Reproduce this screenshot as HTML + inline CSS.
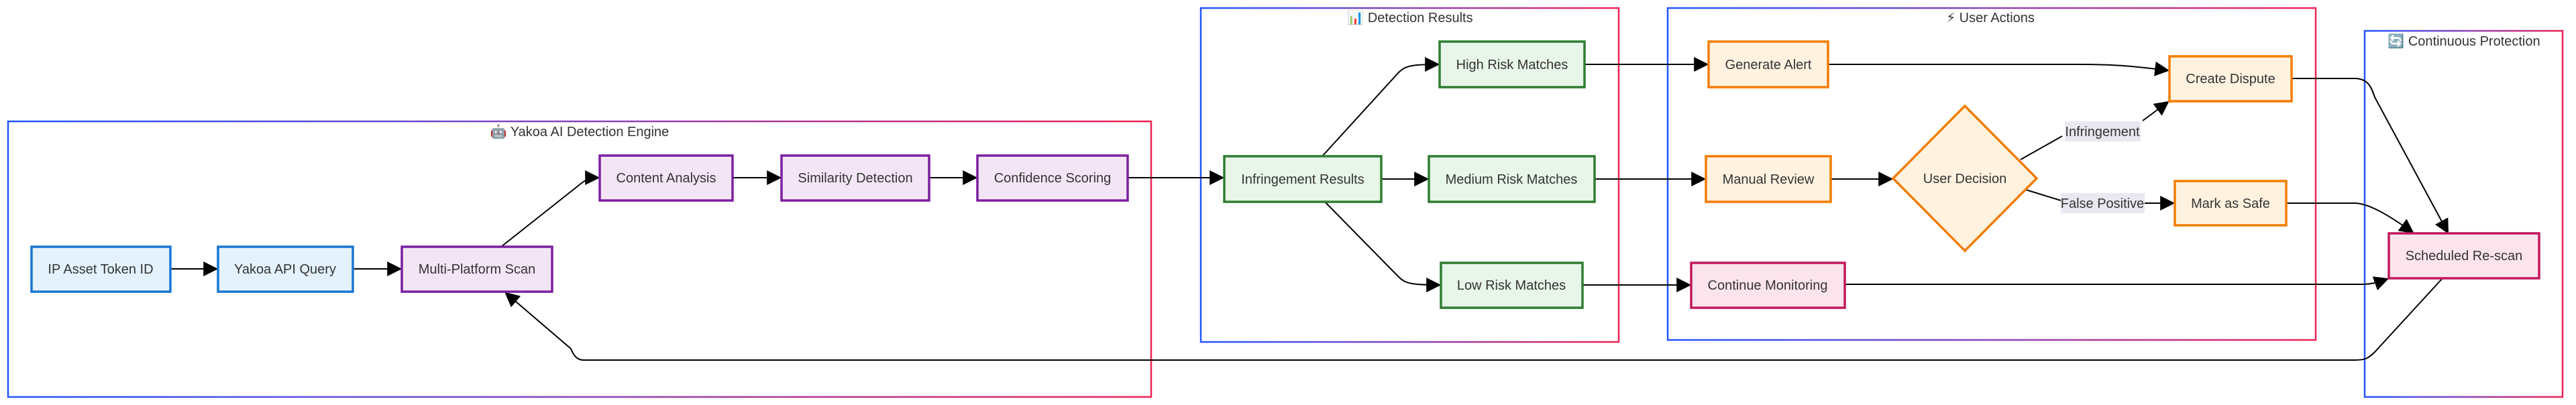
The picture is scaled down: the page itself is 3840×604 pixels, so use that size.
<!DOCTYPE html>
<html><head><meta charset="utf-8"><style>
html,body{margin:0;padding:0;background:#fff;}
svg{display:block;}
text{font-family:"Liberation Sans","DejaVu Sans",sans-serif;fill:#333;}
</style></head><body>
<svg width="3840" height="604" viewBox="0 0 3840 604" xmlns="http://www.w3.org/2000/svg">
<defs>
<linearGradient id="g" x1="0" y1="0" x2="1" y2="0"><stop offset="0" stop-color="#2255ff"/><stop offset="0.5" stop-color="#8844bb"/><stop offset="1" stop-color="#ee2255"/></linearGradient>
<marker id="b" viewBox="0 0 10 10" refX="9" refY="5" markerWidth="22" markerHeight="22" markerUnits="userSpaceOnUse" orient="auto"><path d="M0,0L10,5L0,10z" fill="#000"/></marker>
</defs>
<g fill="none" stroke="url(#g)" stroke-width="2.5">
<rect x="12" y="181" width="1704" height="411"/>
<rect x="1790" y="12" width="623" height="498"/>
<rect x="2486" y="12" width="966" height="495"/>
<rect x="3525" y="46" width="295" height="546"/>
</g>
<g font-size="20" text-anchor="middle">
<text x="864" y="203">🤖 Yakoa AI Detection Engine</text>
<text x="2102" y="33">📊 Detection Results</text>
<text x="2967" y="33">⚡ User Actions</text>
<text x="3673" y="68">🔄 Continuous Protection</text>
</g>
<g fill="none" stroke="#000" stroke-width="2" marker-end="url(#b)">
<path d="M254,401H323"/>
<path d="M526,401H597"/>
<path d="M747,368L862,277C872,268 880,265 892,265"/>
<path d="M1092,265H1163"/>
<path d="M1385,265H1455"/>
<path d="M1681,265H1823"/>
<path d="M1971,233L2085,108C2095,98 2105,96 2144,96"/>
<path d="M2059,267H2128"/>
<path d="M1975,301L2085,413C2095,423 2105,425 2146,425"/>
<path d="M2362,96H2545"/>
<path d="M2377,267H2541"/>
<path d="M2359,425H2519"/>
<path d="M2725,96H3100C3160,96 3190,100 3232,105"/>
<path d="M2729,267H2820"/>
<path d="M3012,238L3074,203M3194,180L3232,152"/>
<path d="M3020,283L3072,299M3197,303H3240"/>
<path d="M3416,117H3510C3530,117 3535,130 3540,145L3649,347"/>
<path d="M3408,303H3510C3530,303 3560,320 3597,347"/>
<path d="M2750,424H3520C3535,424 3545,421 3559,416"/>
<path d="M3641,415L3540,525C3530,535 3525,537 3510,537H870C860,537 855,530 851,520L754,437"/>
</g>
<rect x="3078" y="181" width="113" height="30" fill="#e8e8f0"/>
<text x="3134" y="203" font-size="20" text-anchor="middle">Infringement</text>
<rect x="3072" y="288" width="125" height="30" fill="#e8e8f0"/>
<text x="3134" y="310" font-size="20" text-anchor="middle">False Positive</text>
<g stroke-width="3.5" font-size="20">
<g fill="#e3f2fd" stroke="#1976d2">
<rect x="47" y="368" width="207" height="67"/>
<rect x="325" y="368" width="201" height="67"/>
</g>
<g fill="#f3e5f5" stroke="#7b1fa2">
<rect x="599" y="368" width="224" height="67"/>
<rect x="894" y="232" width="198" height="67"/>
<rect x="1165" y="232" width="220" height="67"/>
<rect x="1457" y="232" width="224" height="67"/>
</g>
<g fill="#e8f5e9" stroke="#2e7d32">
<rect x="1825" y="233" width="234" height="68"/>
<rect x="2146" y="62" width="216" height="68"/>
<rect x="2130" y="233" width="247" height="68"/>
<rect x="2148" y="392" width="211" height="67"/>
</g>
<g fill="#fff3e0" stroke="#f57c00">
<rect x="2547" y="62" width="178" height="68"/>
<rect x="2543" y="233" width="186" height="68"/>
<rect x="3234" y="84" width="182" height="67"/>
<rect x="3242" y="270" width="166" height="66"/>
<polygon points="2929,158 3036,266 2929,374 2822,266"/>
</g>
<g fill="#fce4ec" stroke="#c2185b">
<rect x="2521" y="392" width="229" height="67"/>
<rect x="3561" y="348" width="224" height="67"/>
</g>
</g>
<g font-size="20" text-anchor="middle">
<text x="150" y="408">IP Asset Token ID</text>
<text x="425" y="408">Yakoa API Query</text>
<text x="711" y="408">Multi-Platform Scan</text>
<text x="993" y="272">Content Analysis</text>
<text x="1275" y="272">Similarity Detection</text>
<text x="1569" y="272">Confidence Scoring</text>
<text x="1942" y="274">Infringement Results</text>
<text x="2254" y="103">High Risk Matches</text>
<text x="2253" y="274">Medium Risk Matches</text>
<text x="2253" y="432">Low Risk Matches</text>
<text x="2636" y="103">Generate Alert</text>
<text x="2636" y="274">Manual Review</text>
<text x="2635" y="432">Continue Monitoring</text>
<text x="3325" y="124">Create Dispute</text>
<text x="3325" y="310">Mark as Safe</text>
<text x="2929" y="273">User Decision</text>
<text x="3673" y="388">Scheduled Re-scan</text>
</g>
</svg>
</body></html>
